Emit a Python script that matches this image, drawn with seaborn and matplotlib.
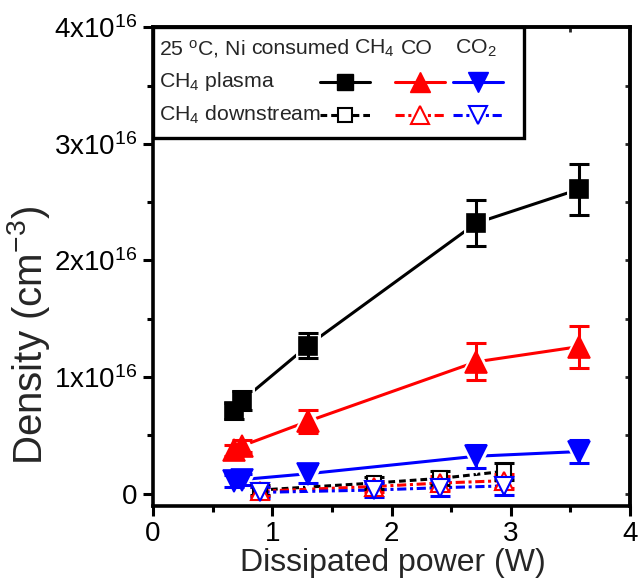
import matplotlib
matplotlib.use('Agg')
import matplotlib.pyplot as plt
import seaborn as sns
from matplotlib.ticker import MultipleLocator, FixedLocator
from matplotlib.patches import Rectangle

# ---- data (densities in units of 1e16 cm^-3) ----
x_plasma = [0.68, 0.75, 1.30, 2.71, 3.57]
ch4_plasma = [0.71, 0.80, 1.27, 2.32, 2.61]
ch4_plasma_err = [0.07, 0.08, 0.11, 0.20, 0.22]
co_plasma = [0.37, 0.41, 0.62, 1.13, 1.26]
co_plasma_err = [0.05, 0.05, 0.10, 0.16, 0.18]
co2_plasma = [0.11, 0.12, 0.17, 0.32, 0.36]
co2_plasma_err = [0.05, 0.05, 0.08, 0.10, 0.10]

x_down = [0.90, 1.85, 2.41, 2.94]
ch4_down = [0.03, 0.09, 0.13, 0.19]
ch4_down_err = [0.04, 0.05, 0.06, 0.07]
co_down = [0.02, 0.06, 0.09, 0.11]
co_down_err = [0.04, 0.05, 0.06, 0.06]
co2_down = [0.01, 0.03, 0.05, 0.065]
co2_down_err = [0.05, 0.06, 0.07, 0.08]

y_ticks = [0, 1, 2, 3, 4]
y_tick_labels = ['0', r'$\mathregular{1x10^{16}}$', r'$\mathregular{2x10^{16}}$',
                 r'$\mathregular{3x10^{16}}$', r'$\mathregular{4x10^{16}}$']
x_ticks = [0, 1, 2, 3, 4]

sns.set_style('ticks')
plt.rcParams['font.family'] = ['Liberation Sans', 'DejaVu Sans']
plt.rcParams['mathtext.fontset'] = 'custom'
plt.rcParams['mathtext.rm'] = 'Liberation Sans'
plt.rcParams['mathtext.it'] = 'Liberation Sans:italic'
plt.rcParams['mathtext.bf'] = 'Liberation Sans:bold'
plt.rcParams['mathtext.default'] = 'regular'

fig = plt.figure(figsize=(6.42, 5.86), dpi=100)
ax = fig.add_axes([153/642, 80/586, 477/642, 478.7/586])

BLACK, RED, BLUE = '#000000', '#ff0000', '#0000ff'
LW = 2.2


def series(x, y, e, color, marker, ms, ls, filled, halo):
    sns.lineplot(x=x, y=y, ax=ax, color=color, linewidth=LW, linestyle=ls,
                 sort=False, estimator=None, zorder=2)
    if halo:
        ax.plot(x, y, linestyle='none', marker=marker, ms=ms, mfc='white',
                mec='white', mew=5, zorder=3)
    ax.errorbar(x, y, yerr=e, fmt='none', ecolor=color, elinewidth=LW,
                capsize=7, capthick=LW, zorder=4)
    ax.plot(x, y, linestyle='none', marker=marker, ms=ms,
            mfc=color if filled else 'white', mec=color,
            mew=1.2 if filled else 1.5, zorder=5)


DASH_K = (0, (2.2, 1.3))
DASH_D = (0, (3.0, 1.2, 1.0, 1.2))

series(x_plasma, ch4_plasma, ch4_plasma_err, BLACK, 's', 12.5, '-', True, True)
series(x_plasma, co_plasma, co_plasma_err, RED, '^', 15.5, '-', True, True)
series(x_plasma, co2_plasma, co2_plasma_err, BLUE, 'v', 15.5, '-', True, True)
series(x_down, ch4_down, ch4_down_err, BLACK, 's', 10, DASH_K, False, False)
series(x_down, co_down, co_down_err, RED, '^', 13, DASH_D, False, False)
series(x_down, co2_down, co2_down_err, BLUE, 'v', 13, DASH_D, False, False)

ax.set_xlim(0, 4)
ax.set_ylim(-0.107, 4)
ax.xaxis.set_major_locator(FixedLocator(x_ticks))
ax.xaxis.set_minor_locator(MultipleLocator(0.5))
ax.yaxis.set_major_locator(FixedLocator(y_ticks))
ax.yaxis.set_minor_locator(MultipleLocator(0.5))
ax.set_yticklabels(y_tick_labels)
ax.tick_params(which='major', direction='out', length=7, width=2.2,
               labelsize=20, color='black', labelcolor='black', pad=4)
ax.tick_params(which='minor', direction='out', length=4, width=2.2, color='black')
for s in ax.spines.values():
    s.set_linewidth(2.6)
    s.set_color('black')
    s.set_visible(True)

# inward mirror ticks on top and right
sx = ax.secondary_xaxis('top')
sx.xaxis.set_major_locator(FixedLocator(x_ticks))
sx.xaxis.set_minor_locator(MultipleLocator(0.5))
sx.tick_params(which='both', direction='in', length=3.5, width=2, labeltop=False)
sx.spines['top'].set_linewidth(2.6)
sy = ax.secondary_yaxis('right')
sy.yaxis.set_major_locator(FixedLocator(y_ticks))
sy.yaxis.set_minor_locator(MultipleLocator(0.5))
sy.tick_params(which='both', direction='in', length=3.5, width=2, labelright=False)
sy.spines['right'].set_linewidth(2.6)

ax.set_xlabel('Dissipated power (W)', fontsize=23)
ax.set_ylabel('Density (cm$^{-3}$)', fontsize=29)
ax.xaxis.set_label_coords(0.503, -0.088)
ax.yaxis.set_label_coords(-0.212, 0.357)

# ---- custom table-like legend ----
ax.add_patch(Rectangle((0, 0.769), 0.778, 0.231, transform=ax.transAxes,
                       fill=True, facecolor='white', edgecolor='black',
                       linewidth=2.4, zorder=10, clip_on=False))
fs = 15.3
row_y = [0.955, 0.886, 0.817]
header = [(0.0126, '25 $^{o}$C, Ni'), (0.205, 'consumed'), (0.422, 'CH$_4$'),
          (0.519, 'CO'), (0.633, 'CO$_2$')]
for hx, txt in header:
    ax.text(hx, row_y[0], txt, transform=ax.transAxes, fontsize=fs,
            va='center', ha='left', zorder=11)
ax.text(0.0126, row_y[1], 'CH$_4$ plasma', transform=ax.transAxes, fontsize=fs,
        va='center', ha='left', zorder=11)
ax.text(0.0126, row_y[2], 'CH$_4$ downstream', transform=ax.transAxes, fontsize=fs,
        va='center', ha='left', zorder=11)

handle_x = [(0.350, 0.455), (0.507, 0.612), (0.629, 0.734)]
handle_style = [
    (BLACK, 's', 12, 10, DASH_K),
    (RED, '^', 15, 13, DASH_D),
    (BLUE, 'v', 15, 13, DASH_D),
]
for (x0, x1), (c, m, ms_f, ms_o, dls) in zip(handle_x, handle_style):
    xm = (x0 + x1) / 2
    ax.plot([x0, x1], [row_y[1]] * 2, color=c, lw=LW, transform=ax.transAxes,
            zorder=11, clip_on=False)
    ax.plot([xm], [row_y[1]], marker=m, ms=ms_f, color=c, mec=c,
            transform=ax.transAxes, zorder=12, clip_on=False)
    ax.plot([x0, x1], [row_y[2]] * 2, color=c, lw=LW, linestyle=dls,
            transform=ax.transAxes, zorder=11, clip_on=False)
    ax.plot([xm], [row_y[2]], marker=m, ms=ms_o, mfc='white', mec=c, mew=1.5,
            linestyle='none', transform=ax.transAxes, zorder=12, clip_on=False)

fig.savefig('out.png', dpi=100)
